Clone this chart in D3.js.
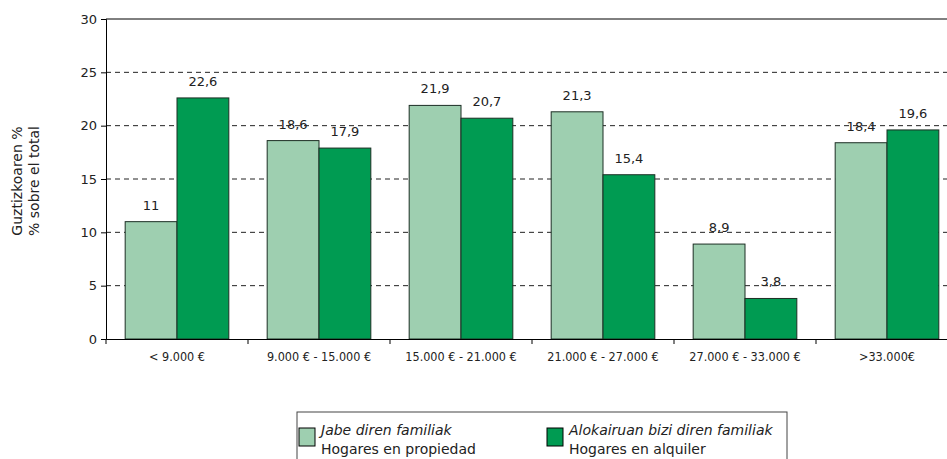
<!DOCTYPE html>
<html>
<head>
<meta charset="utf-8">
<script src="https://d3js.org/d3.v7.min.js"></script>
<style>
  body { margin: 0; background: #fff; }
  text { font-family: "DejaVu Sans", sans-serif; fill: #222; }
</style>
</head>
<body>
<script>
// data
var categories = ["< 9.000 \u20ac", "9.000 \u20ac  - 15.000 \u20ac", "15.000 \u20ac  - 21.000 \u20ac",
                  "21.000 \u20ac  - 27.000 \u20ac", "27.000 \u20ac  - 33.000 \u20ac", ">33.000\u20ac"];
var propiedad = [11, 18.6, 21.9, 21.3, 8.9, 18.4];
var alquiler = [22.6, 17.9, 20.7, 15.4, 3.8, 19.6];
var yTicks = [0, 5, 10, 15, 20, 25, 30];
var seriesNames = [
    ["Jabe diren familiak", "Hogares en propiedad"],
    ["Alokairuan bizi diren familiak", "Hogares en alquiler"]
];
var colors = ["#9ecfb0", "#009b52"];

var width = 947, height = 459;
var margin = {left: 106, top: 19};
var plotW = 852, plotH = 320;

var svg = d3.select("body").append("svg")
    .attr("width", width)
    .attr("height", height);

var g = svg.append("g")
    .attr("transform", "translate(" + margin.left + "," + margin.top + ")");

var x0 = d3.scaleBand().domain(categories).range([0, plotW]).paddingInner(0).paddingOuter(0);
var x1 = d3.scaleBand().domain([0, 1]).range([0, x0.bandwidth()]).paddingOuter(0.37).paddingInner(0);
var y = d3.scaleLinear().domain([0, 30]).range([plotH, 0]);

// dashed gridlines
g.selectAll(".grid")
    .data(yTicks.filter(function (d) { return d > 0 && d < 30; }))
    .enter().append("line")
    .attr("x1", 0).attr("x2", plotW)
    .attr("y1", function (d) { return y(d); })
    .attr("y2", function (d) { return y(d); })
    .attr("stroke", "#222")
    .attr("stroke-width", 1)
    .attr("stroke-dasharray", "5,4");

// top border
g.append("line")
    .attr("x1", 0).attr("x2", plotW)
    .attr("y1", y(30)).attr("y2", y(30))
    .attr("stroke", "#000");

// bars
var groups = g.selectAll(".cat")
    .data(categories)
    .enter().append("g")
    .attr("transform", function (d) { return "translate(" + x0(d) + ",0)"; });

groups.each(function (c, i) {
    var vals = [propiedad[i], alquiler[i]];
    var sel = d3.select(this);
    vals.forEach(function (v, s) {
        sel.append("rect")
            .attr("x", x1(s))
            .attr("y", y(v))
            .attr("width", x1.bandwidth())
            .attr("height", plotH - y(v))
            .attr("fill", colors[s])
            .attr("stroke", "#1c2e24")
            .attr("stroke-width", 1);
        sel.append("text")
            .attr("x", x1(s) + x1.bandwidth() / 2)
            .attr("y", y(v) - 12)
            .attr("text-anchor", "middle")
            .style("font-size", "13px")
            .text(String(v).replace(".", ","));
    });
});

// y axis
var yAxis = d3.axisLeft(y).tickValues(yTicks).tickSize(5).tickPadding(4);
var ya = g.append("g").call(yAxis);
ya.select(".domain").attr("stroke", "#000");
ya.selectAll("text").style("font-size", "13px").attr("fill", "#222")
    .style("font-family", "'DejaVu Sans', sans-serif");

// x axis
var xAxis = d3.axisBottom(x0).tickSize(0).tickPadding(13);
var xa = g.append("g").attr("transform", "translate(0," + plotH + ")").call(xAxis);
xa.select(".domain").attr("stroke", "#000");
xa.selectAll("text").style("font-size", "12.5px").attr("fill", "#222")
    .style("font-family", "'DejaVu Sans Condensed', 'DejaVu Sans', sans-serif")
    .style("font-stretch", "condensed");
xa.selectAll(".sep")
    .data(categories.concat(["end"]))
    .enter().append("line")
    .attr("x1", function (d, i) { return i * x0.bandwidth(); })
    .attr("x2", function (d, i) { return i * x0.bandwidth(); })
    .attr("y1", 0).attr("y2", 5)
    .attr("stroke", "#000");

// y label
var yl = svg.append("text")
    .attr("transform", "translate(22," + (margin.top + 162) + ") rotate(-90)")
    .attr("text-anchor", "middle")
    .style("font-size", "14px");
yl.append("tspan").attr("x", 0).attr("dy", 0).text("Guztizkoaren %");
yl.append("tspan").attr("x", 0).attr("dy", 17).text("% sobre el total");

// legend
var leg = svg.append("g").attr("transform", "translate(297,412)");
leg.append("rect")
    .attr("x", 0).attr("y", 0)
    .attr("width", 490).attr("height", 60)
    .attr("fill", "#fff")
    .attr("stroke", "#444");
var legX = [2, 250];
seriesNames.forEach(function (n, s) {
    var lg = leg.append("g").attr("transform", "translate(" + legX[s] + ",0)");
    lg.append("rect")
        .attr("x", 0).attr("y", 16)
        .attr("width", 16).attr("height", 18)
        .attr("fill", colors[s])
        .attr("stroke", "#000");
    lg.append("text")
        .attr("x", 22).attr("y", 23)
        .style("font-size", "14px")
        .style("font-style", "italic")
        .text(n[0]);
    lg.append("text")
        .attr("x", 22).attr("y", 42)
        .style("font-size", "14px")
        .text(n[1]);
});
</script>
</body>
</html>
